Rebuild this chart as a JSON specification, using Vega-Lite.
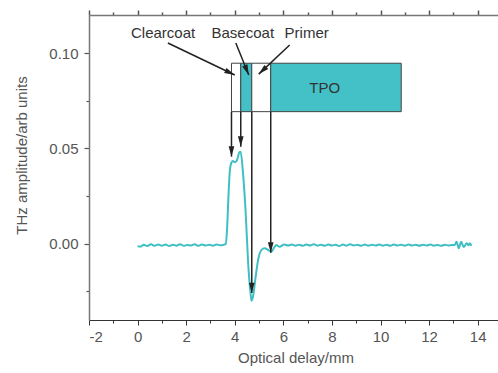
{
  "$schema": "https://vega.github.io/schema/vega-lite/v6.json",
  "width": 413,
  "height": 305,
  "autosize": "none",
  "padding": {"left": 89, "top": 15, "right": 0, "bottom": 53},
  "background": "white",
  "config": {
    "view": {"stroke": null},
    "font": "Liberation Sans",
    "axis": {"labelFont": "Liberation Sans", "titleFont": "Liberation Sans", "labelFontSize": 15, "titleFontSize": 15, "labelColor": "#555", "titleColor": "#555", "titleFontWeight": "normal", "grid": false}
  },
  "resolve": {"axis": {"x": "independent", "y": "independent"}},
  "datasets": {
    "wave": [
      {"x": 0.00, "y": -0.0013}, {"x": 0.12, "y": -0.0015}, {"x": 0.25, "y": -0.0005}, {"x": 0.40, "y": -0.0012},
      {"x": 0.55, "y": -0.0003}, {"x": 0.70, "y": -0.0011}, {"x": 0.85, "y": -0.0004}, {"x": 1.00, "y": -0.0010},
      {"x": 1.15, "y": -0.0004}, {"x": 1.30, "y": -0.0012}, {"x": 1.45, "y": -0.0005}, {"x": 1.60, "y": -0.0010},
      {"x": 1.75, "y": -0.0002}, {"x": 1.90, "y": -0.0011}, {"x": 2.05, "y": -0.0006}, {"x": 2.20, "y": -0.0009},
      {"x": 2.35, "y": -0.0003}, {"x": 2.50, "y": -0.0011}, {"x": 2.65, "y": -0.0004}, {"x": 2.80, "y": -0.0009},
      {"x": 2.95, "y": -0.0005}, {"x": 3.10, "y": -0.0010}, {"x": 3.25, "y": -0.0004}, {"x": 3.40, "y": -0.0008},
      {"x": 3.55, "y": -0.0005}, {"x": 3.63, "y": 0.0000}, {"x": 3.68, "y": 0.0070}, {"x": 3.74, "y": 0.0247},
      {"x": 3.80, "y": 0.0387}, {"x": 3.86, "y": 0.0425}, {"x": 3.93, "y": 0.0434}, {"x": 4.00, "y": 0.0428},
      {"x": 4.07, "y": 0.0433}, {"x": 4.13, "y": 0.0455}, {"x": 4.18, "y": 0.0478}, {"x": 4.24, "y": 0.0483},
      {"x": 4.34, "y": 0.0370}, {"x": 4.45, "y": 0.0160}, {"x": 4.55, "y": -0.0100}, {"x": 4.65, "y": -0.0259},
      {"x": 4.69, "y": -0.0299}, {"x": 4.75, "y": -0.0278}, {"x": 4.86, "y": -0.0173}, {"x": 4.96, "y": -0.0085},
      {"x": 5.10, "y": -0.0032}, {"x": 5.23, "y": -0.0024}, {"x": 5.38, "y": -0.0033}, {"x": 5.51, "y": -0.0042},
      {"x": 5.62, "y": -0.0020}, {"x": 5.71, "y": -0.0007}, {"x": 5.85, "y": -0.0016}, {"x": 6.03, "y": -0.0004},
      {"x": 6.20, "y": -0.0009}, {"x": 6.35, "y": -0.0004}, {"x": 6.50, "y": -0.0010}, {"x": 6.65, "y": -0.0005},
      {"x": 6.80, "y": -0.0011}, {"x": 6.95, "y": -0.0004}, {"x": 7.10, "y": -0.0009}, {"x": 7.25, "y": -0.0003},
      {"x": 7.40, "y": -0.0010}, {"x": 7.55, "y": -0.0005}, {"x": 7.70, "y": -0.0011}, {"x": 7.85, "y": -0.0004},
      {"x": 8.00, "y": -0.0009}, {"x": 8.15, "y": -0.0005}, {"x": 8.30, "y": -0.0012}, {"x": 8.45, "y": -0.0004},
      {"x": 8.60, "y": -0.0010}, {"x": 8.75, "y": -0.0003}, {"x": 8.90, "y": -0.0009}, {"x": 9.05, "y": -0.0005},
      {"x": 9.20, "y": -0.0011}, {"x": 9.35, "y": -0.0004}, {"x": 9.50, "y": -0.0010}, {"x": 9.65, "y": -0.0005},
      {"x": 9.80, "y": -0.0009}, {"x": 9.95, "y": -0.0004}, {"x": 10.10, "y": -0.0010}, {"x": 10.25, "y": -0.0005},
      {"x": 10.40, "y": -0.0011}, {"x": 10.55, "y": -0.0004}, {"x": 10.70, "y": -0.0009}, {"x": 10.85, "y": -0.0005},
      {"x": 11.00, "y": -0.0010}, {"x": 11.15, "y": -0.0004}, {"x": 11.30, "y": -0.0009}, {"x": 11.45, "y": -0.0005},
      {"x": 11.60, "y": -0.0011}, {"x": 11.75, "y": -0.0005}, {"x": 11.90, "y": -0.0009}, {"x": 12.05, "y": -0.0004},
      {"x": 12.20, "y": -0.0010}, {"x": 12.35, "y": -0.0006}, {"x": 12.50, "y": -0.0011}, {"x": 12.65, "y": -0.0005},
      {"x": 12.80, "y": -0.0009}, {"x": 12.95, "y": -0.0006}, {"x": 13.05, "y": -0.0007}, {"x": 13.13, "y": 0.0010},
      {"x": 13.22, "y": -0.0024}, {"x": 13.32, "y": 0.0011}, {"x": 13.42, "y": -0.0017}, {"x": 13.55, "y": 0.0002},
      {"x": 13.62, "y": -0.0008}, {"x": 13.68, "y": 0.0002}, {"x": 13.74, "y": -0.0011}
    ],
    "layers": [
      {"layer": "Clearcoat", "x0": 3.865, "x1": 4.247, "y0": 0.0693, "y1": 0.0947},
      {"layer": "Basecoat", "x0": 4.247, "x1": 4.70, "y0": 0.0693, "y1": 0.0947},
      {"layer": "Primer", "x0": 4.70, "x1": 5.48, "y0": 0.0693, "y1": 0.0947},
      {"layer": "TPO", "x0": 5.48, "x1": 10.852, "y0": 0.0693, "y1": 0.0947}
    ],
    "arrows": [
      {"name": "v1", "x": 3.865, "y": 0.0693, "x2": 3.865, "y2": 0.0457},
      {"name": "v2", "x": 4.247, "y": 0.0693, "x2": 4.247, "y2": 0.0509},
      {"name": "v3", "x": 4.70, "y": 0.0693, "x2": 4.70, "y2": -0.0259},
      {"name": "v4", "x": 5.48, "y": 0.0693, "x2": 5.48, "y2": -0.0047},
      {"name": "Clearcoat", "x": 1.247, "y": 0.1053, "x2": 4.0, "y2": 0.0885},
      {"name": "Basecoat", "x": 4.042, "y": 0.1053, "x2": 4.576, "y2": 0.0885},
      {"name": "Primer", "x": 6.26, "y": 0.1043, "x2": 4.987, "y2": 0.089}
    ],
    "labels": [
      {"text": "Clearcoat", "x": 1.05, "y": 0.1106},
      {"text": "Basecoat", "x": 4.33, "y": 0.1106},
      {"text": "Primer", "x": 6.96, "y": 0.1106},
      {"text": "TPO", "x": 7.7, "y": 0.0817}
    ]
  },
  "layer": [
    {
      "data": {"name": "layers"},
      "mark": {"type": "rect", "stroke": "#444", "strokeWidth": 1},
      "encoding": {
        "x": {"field": "x0", "type": "quantitative", "scale": {"domain": [-2, 15], "nice": false, "zero": false},
          "axis": {"orient": "top", "values": [-2,-1,0,1,2,3,4,5,6,7,8,9,10,11,12,13,14], "labels": false, "title": null, "domainColor": "#777", "domainWidth": 1.5, "tickColor": "#555", "tickWidth": 1.5,
            "tickSize": {"condition": {"test": "datum.value % 2 != 0", "value": 3}, "value": 5}}},
        "x2": {"field": "x1"},
        "y": {"field": "y0", "type": "quantitative", "scale": {"domain": [-0.04, 0.12], "nice": false, "zero": false},
          "axis": {"orient": "left", "title": "THz amplitude/arb units", "values": [-0.025, 0, 0.025, 0.05, 0.075, 0.1],
            "labelExpr": "round(datum.value * 100) % 5 == 0 ? format(datum.value, '.2f') : ''",
            "labelPadding": 6, "domainColor": "#777", "domainWidth": 1.5, "tickColor": "#555", "tickWidth": 1.2,
            "tickSize": {"condition": {"test": "round(datum.value * 100) % 5 != 0", "value": 3}, "value": 5},
            "titleX": -68, "titleY": 140, "titleAngle": 270, "titleAlign": "center", "titleBaseline": "middle"}},
        "y2": {"field": "y1"},
        "color": {"field": "layer", "type": "nominal", "legend": null,
          "scale": {"domain": ["Clearcoat", "Basecoat", "Primer", "TPO"], "range": ["#ffffff", "#43c1c6", "#ffffff", "#43c1c6"]}}
      }
    },
    {
      "data": {"name": "wave"},
      "mark": {"type": "line", "color": "#3fbfc4", "strokeWidth": 2, "interpolate": "monotone"},
      "encoding": {
        "x": {"field": "x", "type": "quantitative",
          "axis": {"orient": "bottom", "title": "Optical delay/mm", "values": [-2,-1,0,1,2,3,4,5,6,7,8,9,10,11,12,13,14],
            "labelExpr": "datum.value % 2 == 0 ? '' + datum.value : ''", "labelPadding": 4, "titlePadding": 6,
            "domainColor": "#333", "domainWidth": 1.2, "tickColor": "#333", "tickWidth": 1,
            "tickSize": {"condition": {"test": "datum.value % 2 != 0", "value": 3}, "value": 5}}},
        "y": {"field": "y", "type": "quantitative", "axis": null}
      }
    },
    {
      "data": {"name": "arrows"},
      "mark": {"type": "rule", "color": "#222", "strokeWidth": 1.5},
      "encoding": {
        "x": {"field": "x", "type": "quantitative", "axis": null},
        "y": {"field": "y", "type": "quantitative", "axis": null},
        "x2": {"field": "x2"},
        "y2": {"field": "y2"}
      }
    },
    {
      "data": {"name": "arrows"},
      "transform": [{"filter": "datum.name[0] == 'v'"}],
      "mark": {"type": "point", "shape": "M0,0 L-0.6,-2.2 L0.6,-2.2 Z", "size": 90, "filled": true, "color": "#222", "opacity": 1},
      "encoding": {
        "x": {"field": "x2", "type": "quantitative", "axis": null},
        "y": {"field": "y2", "type": "quantitative", "axis": null}
      }
    },
    {
      "data": {"name": "arrows"},
      "transform": [{"filter": "datum.name == 'Clearcoat'"}],
      "mark": {"type": "point", "shape": "M0,0 L-0.6,-2.2 L0.6,-2.2 Z", "size": 90, "filled": true, "color": "#222", "opacity": 1, "angle": 295.5},
      "encoding": {
        "x": {"field": "x2", "type": "quantitative", "axis": null},
        "y": {"field": "y2", "type": "quantitative", "axis": null}
      }
    },
    {
      "data": {"name": "arrows"},
      "transform": [{"filter": "datum.name == 'Basecoat'"}],
      "mark": {"type": "point", "shape": "M0,0 L-0.6,-2.2 L0.6,-2.2 Z", "size": 90, "filled": true, "color": "#222", "opacity": 1, "angle": 337.9},
      "encoding": {
        "x": {"field": "x2", "type": "quantitative", "axis": null},
        "y": {"field": "y2", "type": "quantitative", "axis": null}
      }
    },
    {
      "data": {"name": "arrows"},
      "transform": [{"filter": "datum.name == 'Primer'"}],
      "mark": {"type": "point", "shape": "M0,0 L-0.6,-2.2 L0.6,-2.2 Z", "size": 90, "filled": true, "color": "#222", "opacity": 1, "angle": 46.9},
      "encoding": {
        "x": {"field": "x2", "type": "quantitative", "axis": null},
        "y": {"field": "y2", "type": "quantitative", "axis": null}
      }
    },
    {
      "data": {"name": "labels"},
      "mark": {"type": "text", "font": "Liberation Sans", "fontSize": 15, "color": "#333", "align": "center", "baseline": "middle"},
      "encoding": {
        "x": {"field": "x", "type": "quantitative", "axis": null},
        "y": {"field": "y", "type": "quantitative", "axis": null},
        "text": {"field": "text"}
      }
    }
  ]
}
